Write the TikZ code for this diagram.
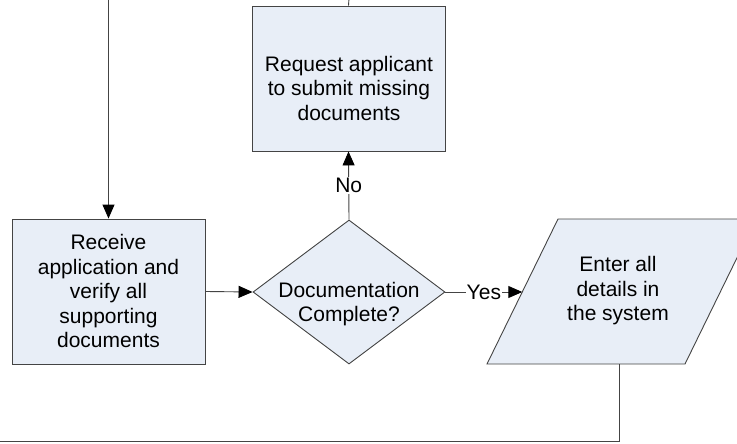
\documentclass[tikz,border=0pt]{standalone}
\usepackage{fontspec}
\setmainfont{Liberation Sans}
\usetikzlibrary{shapes.geometric,arrows.meta}
\definecolor{boxfill}{HTML}{E8EEF7}
\definecolor{edge}{HTML}{444444}
\begin{document}
\begin{tikzpicture}[x=1pt,y=-1pt,
  font=\fontsize{21}{24.5}\selectfont,
  shapebox/.style={draw=edge, fill=boxfill, line width=0.9pt, inner sep=0pt},
  flow/.style={draw=edge, line width=0.9pt},
  arr/.style={flow, -{Triangle[length=14pt,width=12pt,color=black]}},
  lbl/.style={fill=white, inner sep=1pt},
  txt/.style={align=center, inner sep=0pt}
]
\useasboundingbox (0,0) rectangle (737,444);

\node[shapebox, rectangle, minimum width=193pt, minimum height=145pt] (req) at (348.5,78.5) {};
\node[shapebox, rectangle, minimum width=193pt, minimum height=145pt] (recv) at (108.5,291.5) {};
\node[shapebox, diamond, minimum width=192pt, minimum height=144pt] (dec) at (349,292) {};
\draw[shapebox] (487,364) -- (685,364) -- (756,219) -- (558,219) -- cycle;
\coordinate (enterW) at (522.3,292);
\coordinate (enterS) at (619,364);

\node[txt] (reqT) at (349,88) {Request applicant\\to submit missing\\documents};
\node[txt] (recvT) at (108.5,291) {Receive\\application and\\verify all\\supporting\\documents};
\node[txt] (decT) at (349,304) {Documentation\\Complete?};
\node[txt] (enterT) at (618,291) {Enter all\\details in\\the system};

\coordinate (inA) at (108.5,-2);
\coordinate (inB) at (349,-2);
\coordinate (loopC) at (619,441.5);
\coordinate (loopD) at (-2,441.5);

\draw[arr] (inA) -- (recv.north);
\draw[flow] (inB) -- (req.north);
\draw[arr] (recv.east) -- (dec.west);
\draw[arr] (dec.north) -- node[lbl] (no) {No} (req.south);
\draw[arr] (dec.east) -- node[lbl] (yes) {Yes} (enterW);
\draw[flow] (enterS) -- (loopC) -- (loopD);
\end{tikzpicture}
\end{document}
